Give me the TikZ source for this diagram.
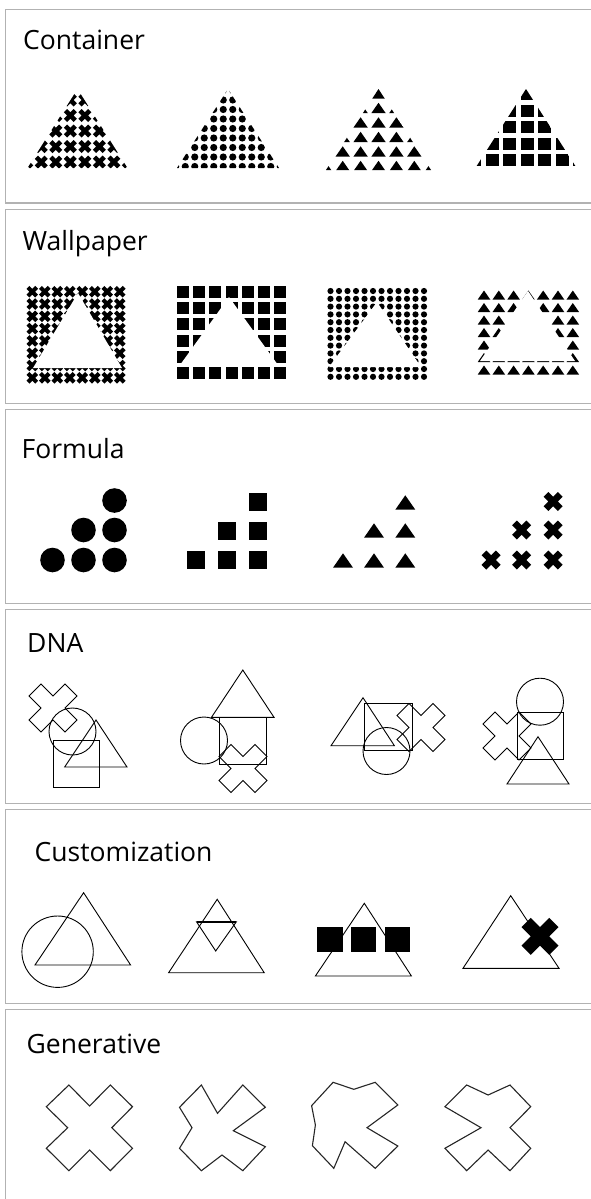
\documentclass[tikz,border=0pt]{standalone}
\usepackage{fontspec}
\setmainfont{Open Sans}
\begin{document}
\begin{tikzpicture}[x=1pt,y=-1pt,
  panel/.style={draw=black!30,line width=1.6pt},
  title/.style={anchor=base west,inner sep=0pt,font=\fontsize{26.5}{30}\selectfont},
  outl/.style={draw=black,line width=0.9pt},
  gen/.style={draw=black!85,line width=1.1pt,line join=miter},
  xc/.pic={\path[pic actions] (-.5,-1)--(0,-.5)--(.5,-1)--(1,-.5)--(.5,0)--(1,.5)--(.5,1)--(0,.5)--(-.5,1)--(-1,.5)--(-.5,0)--(-1,-.5)--cycle;},
  tr/.pic={\path[pic actions] (0,-.36)--(.5,.36)--(-.5,.36)--cycle;},
  sq/.pic={\path[pic actions] (-.5,-.5) rectangle (.5,.5);}
]
\useasboundingbox (0,0) rectangle (590,1199);
% panels
\foreach \a/\b in {9.5/203,209.5/403.5,409.5/603.5,609.5/803.5,809.5/1003.5}
  \draw[panel] (600,\a)--(5.5,\a)--(5.5,\b)--(600,\b);
\draw[panel] (600,1009.5)--(5.5,1009.5)--(5.5,1210);
% titles
\node[title] (t1) at (23,50) {Container};
\node[title] (t2) at (22.5,250) {Wallpaper};
\node[title] (t3) at (21.5,458) {Formula};
\node[title] (t4) at (27,652) {DNA};
\node[title] (t5) at (34.5,861) {Customization};
\node[title] (t6) at (26.5,1053) {Generative};

% ---------- Container ----------
\begin{scope}
\clip (27.5,168)--(127.5,168)--(77.5,89)--cycle;
\foreach \j in {-1,...,4} \foreach \i in {-4,...,3}
  \pic[fill=black,scale=6.5] at ({84.75+14.5*\i},{100+15.5*\j}) {xc};
\end{scope}
\begin{scope}
\clip (177,168)--(279,168)--(228,89)--cycle;
\foreach \j in {-1,...,7} \foreach \i in {-7,...,6}
  \fill ({232.75+9.5*\i},{100+9.5*\j}) circle (3.6);
\end{scope}
\begin{scope}
\clip (326,170)--(431,170)--(378.5,89)--cycle;
\foreach \j in {0,...,5} \foreach \i in {-4,...,4}
  \pic[fill=black,scale=14.5] at ({378.5+17.9*\i},{93.5+14.5*\j}) {tr};
\end{scope}
\begin{scope}
\clip (476,167)--(576,167)--(526,89)--cycle;
\foreach \j in {0,...,4} \foreach \i in {-3,...,3}
  \pic[fill=black,yscale=12,xscale=13] at ({527+17.5*\i},{94+16.5*\j}) {sq};
\end{scope}

% ---------- Wallpaper ----------
\foreach \j in {0,...,7} \foreach \i in {0,...,7}
  \pic[fill=black,scale=5.8] at ({32.3+12.5*\i},{291.7+12.3*\j}) {xc};
\fill[white] (33,368)--(122,368)--(78,293)--cycle;
\foreach \j in {0,...,5} \foreach \i in {0,...,6}
  \pic[fill=black,scale=12] at ({183+16.2*\i},{292+16.2*\j}) {sq};
\fill[white] (180,365)--(278,365)--(229,297)--cycle;
\foreach \j in {0,...,11} \foreach \i in {0,...,11}
  \fill ({330.5+8.5*\i},{291+7.8*\j}) circle (3.1);
\fill[white] (329,367)--(421,367)--(377,302)--cycle;
\foreach \j in {0,...,6} \foreach \i in {0,...,6}
  \pic[fill=black,scale=12.5] at ({484+14.8*\i},{295+12.5*\j}) {tr};
\fill[white] (480,361)--(575,361)--(528,291)--cycle;

% ---------- Formula ----------
\foreach \p in {(52.5,560),(83.5,560),(114.5,560),(83.5,530),(114.5,530),(114.5,500.5)}
  \fill \p circle (12.3);
\foreach \p in {(196,560),(226.5,560),(257.5,560),(226.5,530.5),(257.5,530.5),(257.5,501.5)}
  \pic[fill=black,scale=18] at \p {sq};
\foreach \p in {(343,560.5),(374,560.5),(405.3,560.5),(374,530.5),(405.3,530.5),(405.3,502.5)}
  \pic[fill=black,scale=20] at \p {tr};
\foreach \p in {(491,560),(521.5,560),(553,560),(521.5,530),(553,530),(553,501.5)}
  \pic[fill=black,scale=9.5] at \p {xc};

% ---------- DNA ----------
% group 1
\pic[outl,scale=24] at (53,708) {xc};
\draw[outl] (72.5,731.5) circle (23.5);
\draw[outl] (96,720)--(127,767)--(64.7,767)--cycle;
\draw[outl] (53.4,740.7) rectangle (99.7,787.3);
% group 2
\draw[outl] (242.8,670)--(274,717.3)--(211.5,717.3)--cycle;
\draw[outl] (204,740.5) circle (23.5);
\draw[outl] (219.4,717.3) rectangle (266.5,764.3);
\pic[outl,scale=24] at (243,768.5) {xc};
% group 3
\draw[outl] (363,697.7)--(394.4,745.7)--(331,745.7)--cycle;
\draw[outl] (364.3,703.3) rectangle (412,750.7);
\pic[outl,scale=24] at (421,727.5) {xc};
\draw[outl] (386.5,751) circle (23.5);
% group 4
\draw[outl] (540,701.7) circle (23.5);
\draw[outl] (517.5,712.3) rectangle (563.8,759.3);
\pic[outl,scale=24] at (507,736) {xc};
\draw[outl] (538,736.7)--(569,784)--(507,784)--cycle;

% ---------- Customization ----------
\draw[outl] (83.6,892.7)--(130.6,965)--(35,965)--cycle;
\draw[outl] (57.6,951.7) circle (35.7);
\draw[outl] (217.2,899.3)--(264.2,972.7)--(168.6,972.7)--cycle;
\draw[outl] (196.5,921.7)--(236.4,921.7)--(215.7,951)--cycle;
\draw[black,line width=1.6pt] (196.5,921.7)--(236.4,921.7);
\draw[outl] (364.3,903.3)--(411.4,976)--(315.4,976)--cycle;
\fill (317.3,927.3) rectangle (342.5,952.3);
\fill (350.8,927.3) rectangle (375.6,952.3);
\fill (384.6,927.3) rectangle (409.5,952.3);
\draw[outl] (510.7,895.7)--(559,968.3)--(463,968.3)--cycle;
\pic[fill=black,scale=18.5] at (540,936.3) {xc};

% ---------- Generative ----------
\draw[gen] (68.9,1085)--(89.6,1106)--(110.3,1085)--(132.5,1106.7)--(111.8,1127.7)--(132.5,1148.3)--(110.3,1170.7)--(89.6,1150)--(68.9,1170.7)--(46.3,1148.3)--(67.7,1127.7)--(46.3,1106.7)--cycle;
\draw[gen] (201.4,1085)--(217.5,1113.3)--(242.8,1085)--(265.3,1107.3)--(233.3,1130.7)--(265.3,1146.7)--(242.8,1170.7)--(222,1155)--(201.4,1170.7)--(179.5,1148.3)--(192,1127.7)--(179.5,1107.3)--cycle;
\draw[gen] (333.1,1082.3)--(353.8,1089.3)--(375.2,1082.3)--(397.8,1105)--(367,1127.7)--(397.8,1146)--(375.2,1168.3)--(345.1,1141.7)--(333.8,1168.3)--(312.4,1145.7)--(315.4,1125)--(311.6,1105.7)--cycle;
\draw[gen] (466.7,1085)--(488.1,1095)--(510,1085)--(530.7,1106.7)--(510,1127.7)--(530.7,1148.3)--(510,1170.7)--(488.1,1150)--(466.7,1170.7)--(444.9,1148.3)--(481,1127.7)--(444.9,1106.7)--cycle;
\end{tikzpicture}
\end{document}
